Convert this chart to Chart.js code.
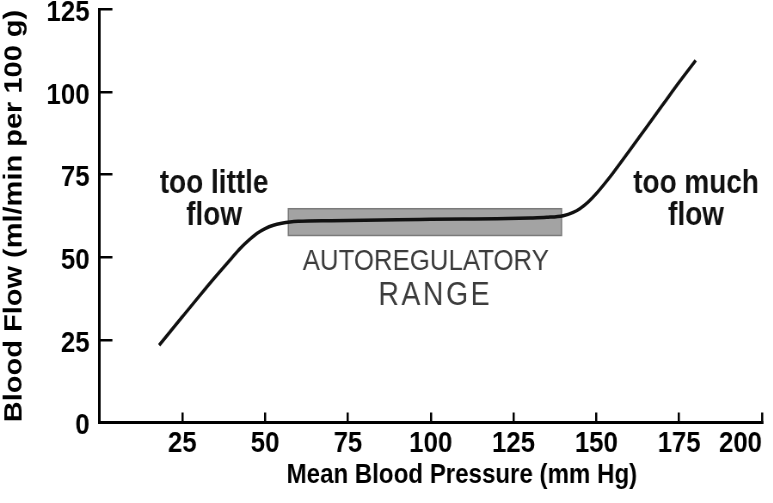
<!DOCTYPE html>
<html><head><meta charset="utf-8">
<script src="https://cdn.jsdelivr.net/npm/chart.js@4.4.1/dist/chart.umd.min.js"></script>
<style>
html,body{margin:0;padding:0;background:#fff;overflow:hidden;}
#wrap{width:899px;height:503px;transform:scaleX(0.86);transform-origin:0 0;}
</style></head><body>
<div id="wrap"><canvas id="c" width="899" height="503"></canvas></div>
<script>
// Data
const pressure = [18, 25, 30, 35, 40, 42.5, 45, 47.5, 50, 52.5, 55, 57.5, 60, 70, 80, 90, 100, 110, 120, 130, 135, 140, 143, 145, 147.5, 150, 152.5, 155, 160, 165, 170, 175, 180];
const flow     = [23.4, 32.0, 38.1, 44.1, 49.9, 52.7, 55.1, 57.2, 58.7, 59.7, 60.3, 60.7, 60.9, 61.1, 61.2, 61.4, 61.5, 61.6, 61.7, 61.9, 62.1, 62.6, 63.6, 64.7, 66.7, 69.3, 72.3, 75.5, 82.3, 89.2, 96.1, 103.0, 109.6];
const rangePressure = [57, 139.5];
const rangeFlow = [56.6, 64.7];
const xTickValues = [0, 25, 50, 75, 100, 125, 150, 175, 200];
const yTickValues = [0, 25, 50, 75, 100, 125];
const xTitle = 'Mean Blood Pressure (mm Hg)';
const yTitle = 'Blood Flow (ml/min per 100 g)';

const FONT = "'Liberation Sans', Arial, Helvetica, sans-serif";
Chart.defaults.font.family = FONT;
Chart.defaults.color = '#000';

const notes = [
  {text: 'too little', x: 34.6, y: 69.5, size: 32.5, weight: 'bold', color: '#111', spacing: 0},
  {text: 'flow',       x: 34.6, y: 59.8, size: 32.5, weight: 'bold', color: '#111', spacing: 0},
  {text: 'too much',   x: 180.1, y: 69.5, size: 32.5, weight: 'bold', color: '#111', spacing: 0},
  {text: 'flow',       x: 180.1, y: 59.8, size: 32.5, weight: 'bold', color: '#111', spacing: 0},
  {text: 'AUTOREGULATORY', x: 98.5, y: 46.2, size: 30, weight: 'normal', color: '#3c3c3c', spacing: 0},
  {text: 'RANGE',      x: 101.0, y: 35.6, size: 33, weight: 'normal', color: '#3c3c3c', spacing: 3}
];
const xTitlePos = {x: 109.4, baseline: 483, size: 28};

const overlay = {
  id: 'overlay',
  beforeDatasetsDraw(chart) {
    const {ctx, scales: {x, y}} = chart;
    const x0 = x.getPixelForValue(rangePressure[0]);
    const x1 = x.getPixelForValue(rangePressure[1]);
    const y0 = y.getPixelForValue(rangeFlow[1]);
    const y1 = y.getPixelForValue(rangeFlow[0]);
    ctx.save();
    ctx.fillStyle = '#a3a3a3';
    ctx.fillRect(x0, y0, x1 - x0, y1 - y0);
    ctx.strokeStyle = '#7a7a7a';
    ctx.lineWidth = 1.5;
    ctx.strokeRect(x0, y0, x1 - x0, y1 - y0);
    ctx.restore();
  },
  afterDraw(chart) {
    const {ctx, scales: {x, y}} = chart;
    ctx.save();
    ctx.textAlign = 'center';
    ctx.textBaseline = 'alphabetic';
    notes.forEach(n => {
      ctx.font = `${n.weight} ${n.size}px ${FONT}`;
      ctx.fillStyle = n.color;
      if ('letterSpacing' in ctx) ctx.letterSpacing = n.spacing + 'px';
      ctx.fillText(n.text, x.getPixelForValue(n.x) + n.spacing / 2, y.getPixelForValue(n.y));
    });
    if ('letterSpacing' in ctx) ctx.letterSpacing = '0px';
    ctx.font = `bold ${xTitlePos.size}px ${FONT}`;
    ctx.fillStyle = '#000';
    ctx.fillText(xTitle, x.getPixelForValue(xTitlePos.x), xTitlePos.baseline);
    ctx.restore();
  }
};

new Chart(document.getElementById('c'), {
  type: 'line',
  data: {
    datasets: [{
      data: pressure.map((p, i) => ({x: p, y: flow[i]})),
      borderColor: '#111',
      borderWidth: 3.5,
      pointRadius: 0,
      cubicInterpolationMode: 'monotone',
      fill: false
    }]
  },
  options: {
    responsive: false,
    animation: false,
    layout: {padding: {top: 9.5, right: 13, left: 0, bottom: 0}},
    plugins: {legend: {display: false}, tooltip: {enabled: false}},
    scales: {
      x: {
        type: 'linear', min: xTickValues[0], max: xTickValues[xTickValues.length - 1],
        afterBuildTicks: s => { s.ticks = xTickValues.map(v => ({value: v})); },
        afterFit: s => { s.height = 80.5; s.paddingLeft = 0; s.paddingRight = 0; },
        border: {display: true, color: '#000', width: 3},
        grid: {drawOnChartArea: false, drawTicks: true, tickLength: -10, color: '#000', lineWidth: 2.5},
        ticks: {
          align: 'inner', padding: 13, autoSkip: false, maxRotation: 0,
          color: '#000', font: {size: 30, weight: 'bold'},
          callback: v => v === 0 ? '' : String(v)
        },
        title: {display: false}
      },
      y: {
        type: 'linear', min: yTickValues[0], max: yTickValues[yTickValues.length - 1],
        afterBuildTicks: s => { s.ticks = yTickValues.map(v => ({value: v})); },
        afterFit: s => { s.width = 115.7; s.paddingTop = 0; s.paddingBottom = 0; },
        border: {display: true, color: '#000', width: 3},
        grid: {drawOnChartArea: false, drawTicks: true, tickLength: -15, color: '#000', lineWidth: 2.5},
        ticks: {padding: 26.6, labelOffset: 3.5, color: '#000', font: {size: 30, weight: 'bold'}, callback: v => String(v)},
        title: {display: true, text: yTitle, color: '#000', font: {size: 29, weight: 'bold'}, padding: {top: 0, bottom: 0}}
      }
    }
  },
  plugins: [overlay]
});
</script>
</body></html>
